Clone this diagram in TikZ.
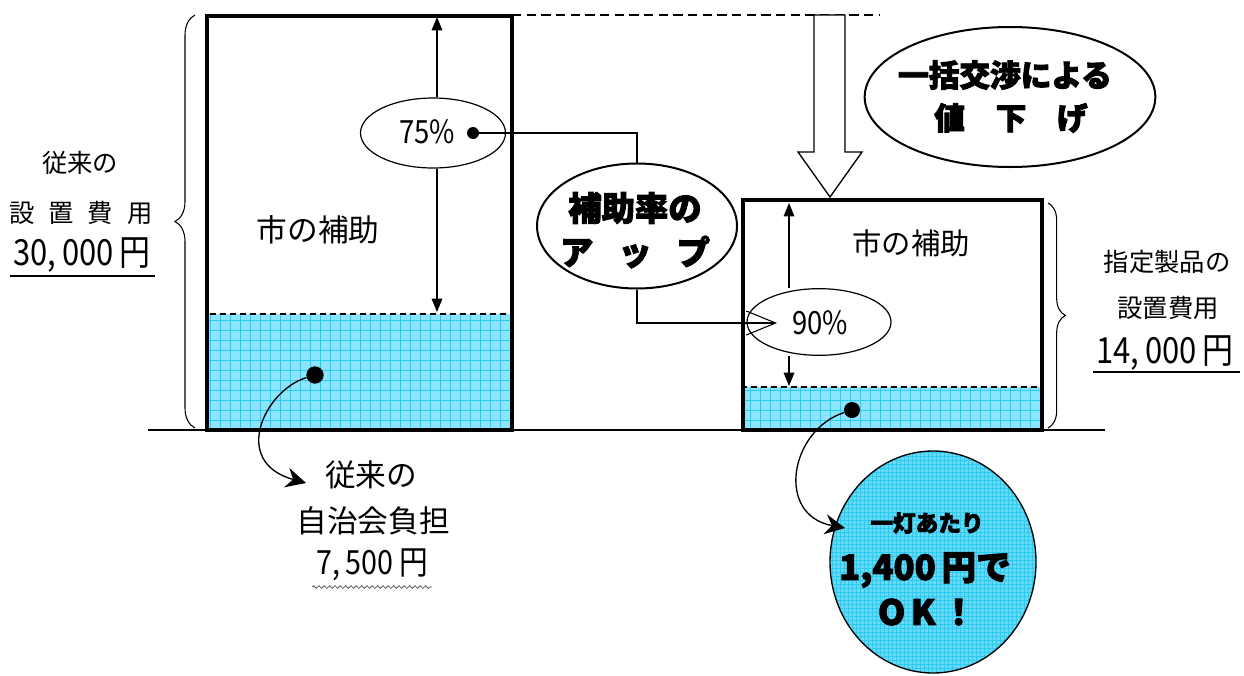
\documentclass[tikz,border=0pt]{standalone}
\usepackage{fontspec}
\setmainfont{Noto Sans CJK JP}[BoldFeatures={FakeBold=3}]
\newfontfamily\narrowjp{Noto Sans CJK JP}[FakeStretch=0.86]
\usetikzlibrary{arrows.meta,decorations.pathreplacing,decorations.pathmorphing,shapes.geometric}
\definecolor{bluefill}{RGB}{140,228,255}
\definecolor{gridc}{RGB}{40,205,242}
\definecolor{circfill}{RGB}{105,215,245}
\newcommand{\fs}[1]{\fontsize{#1pt}{#1pt}\selectfont}
\begin{document}
\begin{tikzpicture}[x=0.75pt,y=-0.75pt,
  txt/.style={inner sep=0pt, text=black},
  boxline/.style={line width=2.3pt},
  ell/.style={draw, ellipse, inner sep=0pt, line width=0.9pt},
  dimarrow/.style={line width=0.8pt, -{Triangle[length=10pt,width=8pt]}},
  curvearrow/.style={line width=1pt, -{Stealth[length=15pt,width=15pt,inset=5pt]}},
  dot/.style={circle, fill=black, inner sep=0pt, minimum size=#1},
  bluearea/.style={line width=1.3pt, dash pattern=on 4.5pt off 3pt}
]
\useasboundingbox (0,0) rectangle (1244,675);

% ---- blue areas with grid
\begin{scope}
\clip (208,314) rectangle (511,430);
\fill[bluefill] (208,314) rectangle (511,430);
\draw[gridc, line width=0.5pt, step=7.5pt] (190,290) grid (530,450);
\end{scope}
\draw[bluearea] (208,314) rectangle (511,430);
\begin{scope}
\clip (743,387) rectangle (1042,430);
\fill[bluefill] (743,387) rectangle (1042,430);
\draw[gridc, line width=0.5pt, step=7.5pt] (730,370) grid (1060,450);
\end{scope}
\draw[bluearea] (743,387) rectangle (1042,430);

% ---- boxes
\draw[boxline] (207,16) rectangle (512,430);
\draw[boxline] (743,200) rectangle (1042,430);

% ---- base line
\draw[line width=1pt] (148,430) -- (1105,430);

% ---- dashed top line and hollow arrow
\draw[line width=1.5pt, dash pattern=on 7pt off 4pt] (512,15) -- (879,15);
\draw[line width=1pt, fill=white] (814,15) -- (814,152) -- (798,152) -- (830,197) -- (862,152) -- (845,152) -- (845,15) -- cycle;

% ---- braces
\draw[line width=0.8pt, decorate, decoration={brace, amplitude=15pt}] (195,428) -- (195,15);
\draw[line width=0.8pt, decorate, decoration={brace, amplitude=13pt}] (1048,203) -- (1048,428);

% ---- left texts
\node[txt, font=\fs{19}] (l1) at (80,163) {従来の};
\node[txt, font=\fs{19}] (l2) at (81,213) {設\hspace{0.55em}置\hspace{0.55em}費\hspace{0.55em}用};
\node[txt, font=\narrowjp\fs{27}] (l3) at (82,255) {30,\,000\,円};
\draw[line width=1.5pt] (10,276) -- (155,276);

\node[txt, font=\fs{23}] (sub1) at (318,230) {市の補助};

% ---- 75% ellipse and arrows
\node[ell, minimum width=108.75pt, minimum height=52.5pt] (e75) at (433,133) {};
\node[txt, font=\narrowjp\fs{24}] (t75) at (427,132) {75\%};
\coordinate (a75t) at (437,17);
\coordinate (a75b) at (437,312);
\draw[dimarrow] (a75t |- e75.north) -- (a75t);
\draw[dimarrow] (a75b |- e75.south) -- (a75b);
\node[dot=9pt] (d75) at (473,133) {};

% ---- up ellipse
\node[ell, line width=1.5pt, minimum width=150pt, minimum height=93.75pt] (up) at (637,226) {};
\node[txt, font=\fs{25}\bfseries] (upt1) at (635,208) {補助率の};
\node[txt, font=\fs{25}\bfseries] (upt2) at (635,252) {ア\hspace{0.75em}ッ\hspace{0.75em}プ};
\draw[line width=0.8pt] (d75) -| (up.north);

% ---- 90% ellipse
\node[ell, minimum width=108pt, minimum height=50pt] (e90) at (819,322) {};
\node[txt, font=\narrowjp\fs{24}] (t90) at (820,323) {90\%};
\coordinate (tip90) at (777,323);
\draw[line width=0.8pt, -{Straight Barb[length=22pt,width=18pt]}] (up.south) |- (tip90);
\coordinate (a90t) at (789,203);
\coordinate (a90b) at (789,386);
\draw[dimarrow] (a90t |- e90.north) -- (a90t);
\draw[dimarrow] (a90b |- e90.south) -- (a90b);

\node[txt, font=\fs{22}] (sub2) at (911,243) {市の補助};

% ---- negotiation ellipse
\node[ell, line width=1.5pt, minimum width=218pt, minimum height=105pt] (neg) at (1010,97) {};
\node[txt, font=\fs{23}\bfseries] (negt1) at (1005,75) {一括交渉による};
\node[txt, font=\fs{23}\bfseries] (negt2) at (1011,118) {値\hspace{1em}下\hspace{1em}げ};

% ---- right texts
\node[txt, font=\fs{19}] (r1) at (1167,262) {指定製品の};
\node[txt, font=\fs{19}] (r2) at (1168,308) {設置費用};
\node[txt, font=\narrowjp\fs{27}] (r3) at (1165,353) {14,\,000\,円};
\draw[line width=1.5pt] (1093,372) -- (1240,372);

% ---- bottom left text
\node[dot=13pt] (d1) at (315,375) {};
\coordinate (c1) at (306,483);
\draw[curvearrow] (d1) .. controls (265,390) and (230,462) .. (c1);
\node[txt, font=\fs{23}] (b1) at (371,475) {従来の};
\node[txt, font=\fs{23}] (b2) at (373,521) {自治会負担};
\node[txt, font=\narrowjp\fs{25}] (b3) at (372,565) {7,\,500\,円};
\draw[gray!70!black, line width=0.6pt, decorate, decoration={snake, amplitude=1pt, segment length=4pt}] (312,587) -- (432,587);

% ---- circle
\begin{scope}
\clip (933,562) ellipse [x radius=103, y radius=111];
\fill[circfill] (933,562) ellipse [x radius=103, y radius=111];
\draw[gridc, line width=0.4pt, step=3pt] (820,440) grid (1050,680);
\end{scope}
\node[draw, ellipse, line width=1pt, minimum width=154.5pt, minimum height=166.5pt] (circ) at (933,562) {};
\node[txt, font=\fs{17}\bfseries] (ct1) at (927,523) {一灯あたり};
\node[txt, font=\fs{26}\bfseries] (ct2) at (925,570) {1,400\,円で};
\node[txt, font=\fs{26}\bfseries] (ct3) at (927,612) {O\,K\,！};

\node[dot=12pt] (d2) at (852,410) {};
\coordinate (c2) at (845,528);
\draw[curvearrow] (d2) .. controls (790,430) and (775,515) .. (c2);
\end{tikzpicture}
\end{document}
